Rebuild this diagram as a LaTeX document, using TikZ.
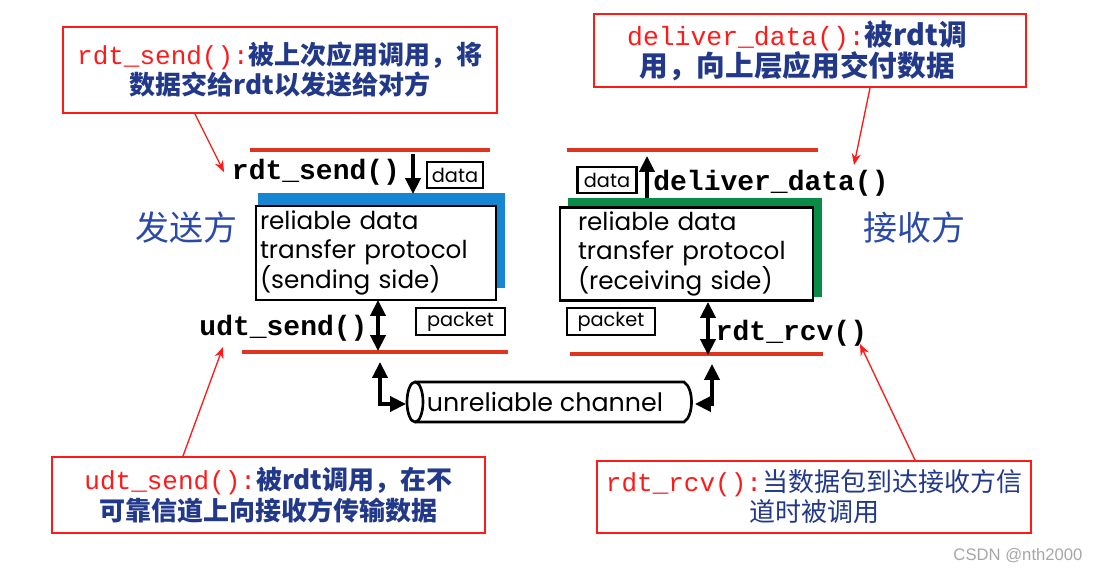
\documentclass[tikz,border=0pt]{standalone}
\usepackage{fontspec}
\setmainfont{Liberation Sans}
\setmonofont{Liberation Mono}
\newfontfamily\cjk{Noto Sans CJK SC}
\newfontfamily\geo{Poppins}
\usetikzlibrary{arrows.meta,positioning,calc}
\definecolor{notered}{HTML}{FF1A1A}
\definecolor{noteblue}{HTML}{22398A}
\definecolor{sideblue}{HTML}{2B4AA8}
\definecolor{layerred}{HTML}{E0341F}
\definecolor{sndblue}{HTML}{1786D2}
\definecolor{rcvgreen}{HTML}{0A8C48}
\newcommand{\fn}[1]{{\ttfamily\color{notered}#1}}
\newcommand{\zh}[1]{{\cjk\bfseries\color{noteblue}#1}}
\newcommand{\zhr}[1]{{\cjk\color{noteblue}#1}}

\begin{document}
\begin{tikzpicture}[x=0.75pt,y=-0.75pt,
    note/.style={draw=notered,line width=1.5pt,inner sep=0pt,align=center},
    fnc/.style={font=\ttfamily\bfseries\fontsize{21}{24}\selectfont,inner sep=0pt},
    tag/.style={draw,line width=1.6pt,inner sep=0pt,font=\geo\fontsize{14.5}{16}\selectfont},
    rdt/.style={draw,fill=white,line width=2.2pt,inner ysep=0pt,align=left,font=\geo\fontsize{18.5}{21.75}\selectfont},
    side/.style={font=\cjk\fontsize{25.5}{28}\selectfont,text=sideblue},
    layer/.style={layerred,line width=3pt},
    tip/.tip={Triangle[length=4.2mm,width=4mm]},
    a/.style={-tip,line width=2.6pt},
    aa/.style={tip-tip,line width=2.6pt},
    call/.style={-{Stealth[length=3mm,width=2.4mm]},notered,line width=1pt}]
  \useasboundingbox (0,0) rectangle (1101,574);

  % notes
  \node[note,minimum width=325.5pt,minimum height=64.5pt,font=\fontsize{19.5}{22.5}\selectfont] (n1) at (280,70)
    {\fn{rdt\_send():}\zh{被上次应用调用，将}\\\zh{数据交给rdt以发送给对方}};
  \node[note,minimum width=324pt,minimum height=54.75pt,font=\fontsize{21.5}{23.25}\selectfont] (n2) at (810,50.5)
    {\fn{\fontsize{19.8}{23}\selectfont deliver\_data():}\zh{被rdt调}\rule{19.5pt}{0pt}\\\zh{用，向上层应用交付数据}\rule{19.5pt}{0pt}};
  \node[note,minimum width=324.75pt,minimum height=57pt,font=\fontsize{19.5}{23.25}\selectfont] (n3) at (268.5,495)
    {\fn{udt\_send():}\zh{被rdt调用，在不}\\\zh{可靠信道上向接收方传输数据}};
  \node[note,minimum width=325.5pt,minimum height=54pt,font=\fontsize{19.5}{22.5}\selectfont] (n4) at (814,497)
    {\fn{rdt\_rcv():}\zhr{当数据包到达接收方信}\\\zhr{道时被调用}};

  % layers
  \draw[layer] (250,150) -- (490,150);
  \draw[layer] (242,352) -- (508,352);
  \draw[layer] (567,150) -- (818,150);
  \draw[layer] (570,354) -- (823,354);

  % sending side
  \fill[sndblue] (258,193) rectangle (505,288);
  \node[rdt,minimum width=180pt,minimum height=70.5pt,text width=174pt,inner xsep=3pt] (snd) at (376,253)
    {reliable data\\transfer protocol\\(sending side)};
  \node[side] (sender) at (186,228) {发送方};
  \node[fnc] (rsend) at (316,172) {rdt\_send()};
  \node[tag,minimum width=42pt,minimum height=19.5pt] (d1) at (455,175) {data};
  \coordinate (s0) at (413,154);
  \coordinate (s1) at (413,194);
  \draw[a] (s0) -- (s1);
  \node[fnc] (usend) at (283.5,328) {udt\_send()};
  \node[tag,minimum width=66.75pt,minimum height=20.25pt] (p1) at (460.5,321.5) {packet};
  \coordinate (s2) at (378,300);
  \coordinate (s3) at (378,351);
  \draw[aa] (s2) -- (s3);

  % receiving side
  \fill[rcvgreen] (568,198) rectangle (822,297);
  \node[rdt,minimum width=189.75pt,minimum height=69.75pt,text width=162.75pt,inner xsep=13.5pt] (rcv) at (686.5,254)
    {reliable data\\transfer protocol\\(receiving side)};
  \node[side] (receiver) at (914,228) {接收方};
  \node[tag,minimum width=44.25pt,minimum height=19.5pt] (d2) at (607,180) {data};
  \coordinate (r0) at (647,198);
  \coordinate (r1) at (647,156);
  \draw[a] (r0) -- (r1);
  \node[fnc] (deliv) at (771,183) {deliver\_data()};
  \node[tag,minimum width=66pt,minimum height=20.25pt] (p2) at (611,321.5) {packet};
  \coordinate (r2) at (708,302);
  \coordinate (r3) at (708,355);
  \draw[aa] (r2) -- (r3);
  \node[fnc] (rrcv) at (791.5,333) {rdt\_rcv()};

  % channel
  \node[font=\geo\fontsize{19}{21}\selectfont,inner sep=0pt] (chan) at (545,402) {unreliable channel};
  \draw[line width=2pt] (415,382) -- (684,382) .. controls (694,388) and (694,416) .. (684,422) -- (415,422);
  \draw[line width=2pt,fill=white] (415,402) ellipse (6pt and 15pt);
  \coordinate (cl) at (406,404);
  \coordinate (cr) at (695,404);
  \coordinate (c0) at (380,362);
  \coordinate (c1) at (712,364);
  \draw[aa] (c0) |- (cl);
  \draw[aa] (c1) |- (cr);

  % calls
  \coordinate (t1) at (224,172);
  \coordinate (t2) at (854,165);
  \coordinate (t3) at (223,347);
  \coordinate (t4) at (860,344);
  \draw[call] ($(n1.south)+(-85,0)$) -- (t1);
  \draw[call] ($(n2.south)+(60,0)$) -- (t2);
  \draw[call] ($(n3.north)+(-85.5,0)$) -- (t3);
  \draw[call] ($(n4.north)+(101,0)$) -- (t4);

  \node[text=gray!70,font=\fontsize{12.5}{14}\selectfont] (mark) at (1018,556) {CSDN @nth2000};
\end{tikzpicture}
\end{document}
